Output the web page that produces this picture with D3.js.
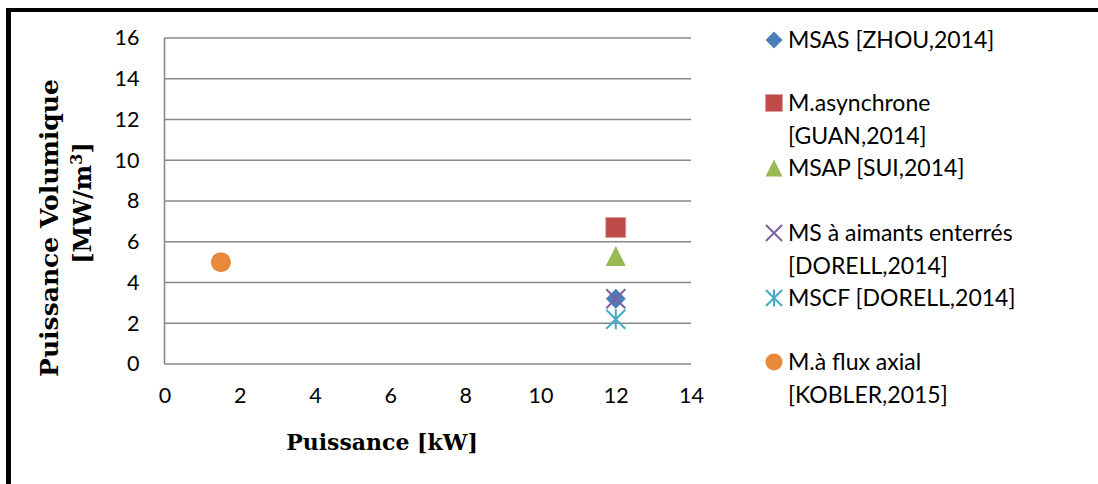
<!DOCTYPE html>
<html><head><meta charset="utf-8">
<script src="https://cdn.jsdelivr.net/npm/d3@7"></script>
<style>html,body{margin:0;padding:0;background:#fff;}svg{display:block;}</style>
</head><body>
<svg id="chart" width="1098" height="484"></svg>
<script>
// ---- data ----
const seriesNames = [
  ["MSAS [ZHOU,2014]"],
  ["M.asynchrone", "[GUAN,2014]"],
  ["MSAP [SUI,2014]"],
  ["MS à aimants enterrés", "[DORELL,2014]"],
  ["MSCF [DORELL,2014]"],
  ["M.à flux axial", "[KOBLER,2015]"]
];
const seriesX = [12, 12, 12, 12, 12, 1.5];
const seriesY = [3.2, 6.7, 5.3, 3.2, 2.2, 5.0];
const seriesSymbols = ["diamond", "square", "triangle", "x", "star", "circle"];
const seriesColors = ["#4A7EBB", "#BE4B48", "#98B954", "#7D60A0", "#46AAC5", "#E8883A"];
const xTicks = [0, 2, 4, 6, 8, 10, 12, 14];
const yTicks = [0, 2, 4, 6, 8, 10, 12, 14, 16];
const xTitle = "Puissance [kW]";
const yTitleLine1 = "Puissance Volumique";

// ---- layout ----
const svg = d3.select("#chart");
const plot = {left: 164.5, right: 691, top: 38, bottom: 364};
const x = d3.scaleLinear().domain([0, 14]).range([plot.left, plot.right]);
const y = d3.scaleLinear().domain([0, 16]).range([plot.bottom, plot.top]);
const labelFont = "Lato, 'Open Sans', sans-serif";
const titleFont = "'DejaVu Serif', 'Liberation Serif', serif";
const gridColor = "#888888";

svg.append("rect").attr("width", 1098).attr("height", 484).attr("fill", "#fff");
// frame (top and left black border)
svg.append("line").attr("x1", 6).attr("x2", 1098).attr("y1", 10).attr("y2", 10)
  .attr("stroke", "#000").attr("stroke-width", 4);
svg.append("line").attr("x1", 8.5).attr("x2", 8.5).attr("y1", 8).attr("y2", 484)
  .attr("stroke", "#000").attr("stroke-width", 5);

// gridlines
svg.append("g").selectAll("line").data(yTicks).join("line")
  .attr("x1", plot.left).attr("x2", plot.right)
  .attr("y1", d => y(d)).attr("y2", d => y(d))
  .attr("stroke", gridColor).attr("stroke-width", 1.6);
// y axis line
svg.append("line").attr("x1", plot.left).attr("x2", plot.left)
  .attr("y1", plot.top).attr("y2", plot.bottom)
  .attr("stroke", gridColor).attr("stroke-width", 1.6);

// y axis via d3
const yAxis = d3.axisLeft(y).tickValues(yTicks).tickSize(0).tickPadding(25);
const gy = svg.append("g").attr("transform", `translate(${plot.left},0)`).call(yAxis);
gy.select(".domain").remove();
gy.selectAll("text").attr("font-family", labelFont).attr("font-size", 21.5).attr("fill", "#000");

const xAxis = d3.axisBottom(x).tickValues(xTicks).tickSize(0).tickPadding(24);
const gx = svg.append("g").attr("transform", `translate(0,${plot.bottom})`).call(xAxis);
gx.select(".domain").remove();
gx.selectAll("text").attr("font-family", labelFont).attr("font-size", 21.5).attr("fill", "#000");

// axis titles
svg.append("text").attr("x", 382).attr("y", 450).attr("text-anchor", "middle")
  .attr("font-family", titleFont).attr("font-weight", "bold").attr("font-size", 22)
  .text(xTitle);
const yt = svg.append("g");
yt.append("text").attr("transform", "translate(58,228) rotate(-90)").attr("text-anchor", "middle")
  .attr("font-family", titleFont).attr("font-weight", "bold").attr("font-size", 25)
  .text(yTitleLine1);
const yt2 = yt.append("text").attr("transform", "translate(91,203) rotate(-90)").attr("text-anchor", "middle")
  .attr("font-family", titleFont).attr("font-weight", "bold").attr("font-size", 24);
yt2.append("tspan").text("[MW/m");
yt2.append("tspan").attr("dy", -9).attr("font-size", 16).text("3");
yt2.append("tspan").attr("dy", 9).text("]");

// symbol helper
function marker(sel, sym, color, size) {
  const h = size / 2;
  if (sym === "diamond") {
    sel.append("path").attr("d", `M0,${-h}L${h},0L0,${h}L${-h},0Z`).attr("fill", color);
  } else if (sym === "square") {
    sel.append("rect").attr("x", -h).attr("y", -h).attr("width", size).attr("height", size)
      .attr("fill", color).attr("stroke", "#d9a09f").attr("stroke-width", 0.8);
  } else if (sym === "triangle") {
    sel.append("path").attr("d", `M0,${-h}L${h},${h}L${-h},${h}Z`).attr("fill", color);
  } else if (sym === "circle") {
    sel.append("circle").attr("r", h).attr("fill", color);
  } else if (sym === "x") {
    const k = h * 0.95;
    sel.append("path").attr("d", `M${-k},${-k}L${k},${k}M${-k},${k}L${k},${-k}`)
      .attr("stroke", color).attr("stroke-width", 2).attr("fill", "none");
  } else if (sym === "star") {
    const k = h * 0.95;
    sel.append("path").attr("d", `M${-k},${-k}L${k},${k}M${-k},${k}L${k},${-k}M0,${-h}L0,${h}`)
      .attr("stroke", color).attr("stroke-width", 2).attr("fill", "none");
  }
}

// points
const pts = svg.append("g");
seriesX.forEach((vx, i) => {
  const g = pts.append("g").attr("transform", `translate(${x(vx)},${y(seriesY[i])})`);
  marker(g, seriesSymbols[i], seriesColors[i], 20);
});

// legend
const legendRows = [40, 103, 168, 233, 298, 362];
const lg = svg.append("g");
seriesNames.forEach((lines, i) => {
  const g = lg.append("g").attr("transform", `translate(774,${legendRows[i]})`);
  marker(g, seriesSymbols[i], seriesColors[i], 17);
  lines.forEach((t, j) => {
    g.append("text").attr("x", 14).attr("y", j * 32.5).attr("dy", "0.35em")
      .attr("font-family", labelFont).attr("font-size", 23).attr("fill", "#000").text(t);
  });
});
</script>
</body></html>
